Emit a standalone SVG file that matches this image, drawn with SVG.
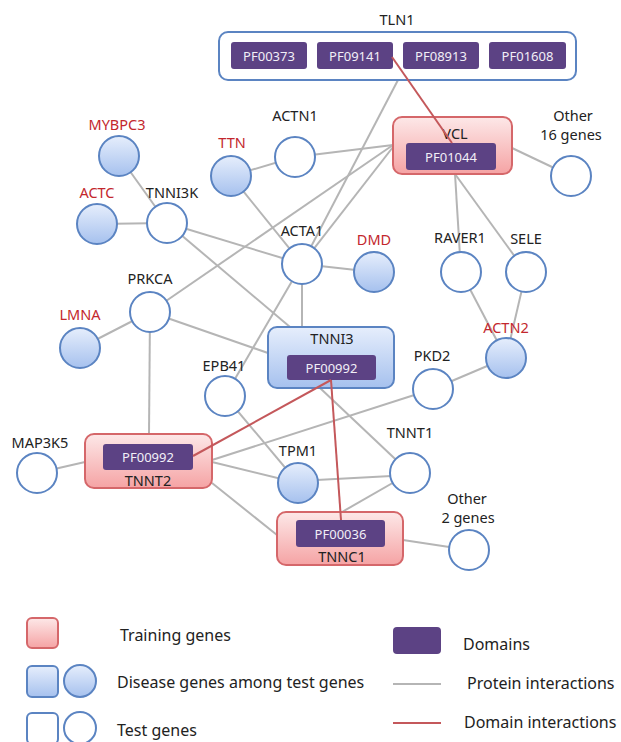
<svg xmlns="http://www.w3.org/2000/svg" width="621" height="742" viewBox="0 0 621 742">
<defs>
<linearGradient id="pink" x1="0" y1="0" x2="0" y2="1">
<stop offset="0" stop-color="#fde8e8"/><stop offset="1" stop-color="#f5a3a4"/>
</linearGradient>
<linearGradient id="blue" x1="0" y1="0" x2="0" y2="1">
<stop offset="0" stop-color="#e6eefc"/><stop offset="1" stop-color="#a6c1ee"/>
</linearGradient>
<style>
text{font-family:"Segoe UI","Noto Sans","Open Sans",sans-serif;dominant-baseline:central}
.lbl{font-size:14.5px;fill:#222;text-anchor:middle}
.red{fill:#c3272d}
.dom{fill:#5c4284;stroke:none}
.dt{font-size:13px;fill:#f2eff7;text-anchor:middle}
.test{fill:#fff;stroke:#5b84c2;stroke-width:2}
.dis{fill:url(#blue);stroke:#5b84c2;stroke-width:2}
.train{fill:url(#pink);stroke:#d5676a;stroke-width:2}
.pi{stroke:#b5b5b5;stroke-width:2;fill:none}
.di{stroke:#c4585b;stroke-width:2;fill:none}
.leg{font-size:16px;fill:#222}
</style>
</defs>
<rect width="621" height="742" fill="#fff"/>

<g id="connectors" class="pi">
<line x1="119" y1="156" x2="167" y2="223"/>
<line x1="97" y1="224" x2="167" y2="223"/>
<line x1="231" y1="176" x2="295" y2="157"/>
<line x1="295" y1="157" x2="393" y2="145"/>
<line x1="231" y1="176" x2="302" y2="264"/>
<line x1="167" y1="223" x2="302" y2="264"/>
<line x1="167" y1="223" x2="290" y2="327"/>
<line x1="150" y1="312" x2="393" y2="145"/>
<line x1="302" y1="264" x2="393" y2="147"/>
<line x1="398" y1="80" x2="302" y2="264"/>
<line x1="302" y1="264" x2="374" y2="272"/>
<line x1="302" y1="264" x2="302" y2="327"/>
<line x1="150" y1="312" x2="80" y2="348"/>
<line x1="150" y1="312" x2="268" y2="353"/>
<line x1="150" y1="312" x2="149" y2="434"/>
<line x1="37" y1="473" x2="85" y2="462"/>
<line x1="212" y1="460" x2="433" y2="389"/>
<line x1="212" y1="462" x2="298" y2="483"/>
<line x1="225" y1="396" x2="302" y2="264"/>
<line x1="225" y1="396" x2="298" y2="483"/>
<line x1="320" y1="388" x2="410" y2="473"/>
<line x1="298" y1="481" x2="410" y2="475"/>
<line x1="342" y1="512" x2="410" y2="473"/>
<line x1="403" y1="540" x2="469" y2="550"/>
<line x1="212" y1="483" x2="277" y2="535"/>
<line x1="455" y1="174" x2="461" y2="272"/>
<line x1="455" y1="174" x2="526" y2="272"/>
<line x1="461" y1="272" x2="506" y2="358"/>
<line x1="526" y1="272" x2="506" y2="358"/>
<line x1="433" y1="389" x2="506" y2="358"/>
<line x1="512" y1="148" x2="571" y2="176"/>
</g>

<g id="TLN1">
<rect class="test" x="219" y="32" width="357" height="48" rx="9"/>
<text class="lbl" x="397" y="19">TLN1</text>
<rect class="dom" x="231" y="42" width="76" height="27" rx="3"/><text class="dt" x="269" y="55.5">PF00373</text>
<rect class="dom" x="317" y="42" width="76" height="27" rx="3"/><text class="dt" x="355" y="55.5">PF09141</text>
<rect class="dom" x="403" y="42" width="76" height="27" rx="3"/><text class="dt" x="441" y="55.5">PF08913</text>
<rect class="dom" x="489" y="42" width="77" height="27" rx="3"/><text class="dt" x="527.5" y="55.5">PF01608</text>
</g>
<g id="MYBPC3"><circle class="dis" cx="119" cy="156" r="20"/><text class="lbl red" x="117" y="124">MYBPC3</text></g>
<g id="ACTC"><circle class="dis" cx="97" cy="224" r="20"/><text class="lbl red" x="97" y="192">ACTC</text></g>
<g id="TNNI3K"><circle class="test" cx="167" cy="223" r="20"/><text class="lbl" x="172" y="192">TNNI3K</text></g>
<g id="TTN"><circle class="dis" cx="231" cy="176" r="20"/><text class="lbl red" x="232" y="142">TTN</text></g>
<g id="ACTN1"><circle class="test" cx="295" cy="157" r="20"/><text class="lbl" x="295" y="115">ACTN1</text></g>
<g id="VCL">
<rect class="train" x="393" y="117" width="119" height="57" rx="9"/>
<text class="lbl" x="455" y="133">VCL</text>
<rect class="dom" x="406" y="143" width="90" height="27" rx="3"/><text class="dt" x="451" y="156.5">PF01044</text>
</g>
<g id="Other16"><circle class="test" cx="571" cy="176" r="20"/><text class="lbl" x="573" y="115">Other</text><text class="lbl" x="571" y="134">16 genes</text></g>
<g id="ACTA1"><circle class="test" cx="302" cy="264" r="20"/><text class="lbl" x="302" y="230">ACTA1</text></g>
<g id="DMD"><circle class="dis" cx="374" cy="272" r="20"/><text class="lbl red" x="374" y="239">DMD</text></g>
<g id="RAVER1"><circle class="test" cx="461" cy="272" r="20"/><text class="lbl" x="460" y="237">RAVER1</text></g>
<g id="SELE"><circle class="test" cx="526" cy="272" r="20"/><text class="lbl" x="526" y="238">SELE</text></g>
<g id="PRKCA"><circle class="test" cx="150" cy="312" r="20"/><text class="lbl" x="150" y="278">PRKCA</text></g>
<g id="LMNA"><circle class="dis" cx="80" cy="348" r="20"/><text class="lbl red" x="80" y="314">LMNA</text></g>
<g id="TNNI3">
<rect class="dis" x="268" y="327" width="126" height="61" rx="9"/>
<text class="lbl" x="332" y="338">TNNI3</text>
<rect class="dom" x="287" y="355" width="89" height="25" rx="3"/><text class="dt" x="331.5" y="367.5">PF00992</text>
</g>
<g id="ACTN2"><circle class="dis" cx="506" cy="358" r="20"/><text class="lbl red" x="506" y="327">ACTN2</text></g>
<g id="PKD2"><circle class="test" cx="433" cy="389" r="20"/><text class="lbl" x="432" y="355">PKD2</text></g>
<g id="EPB41"><circle class="test" cx="225" cy="396" r="20"/><text class="lbl" x="224" y="365">EPB41</text></g>
<g id="MAP3K5"><circle class="test" cx="37" cy="473" r="20"/><text class="lbl" x="40" y="442">MAP3K5</text></g>
<g id="TNNT2">
<rect class="train" x="85" y="434" width="127" height="54" rx="9"/>
<rect class="dom" x="103" y="444" width="90" height="26" rx="3"/><text class="dt" x="148" y="457">PF00992</text>
<text class="lbl" x="148" y="480">TNNT2</text>
</g>
<g id="TPM1"><circle class="dis" cx="298" cy="483" r="20"/><text class="lbl" x="298" y="450">TPM1</text></g>
<g id="TNNT1"><circle class="test" cx="410" cy="473" r="20"/><text class="lbl" x="410" y="432">TNNT1</text></g>
<g id="TNNC1">
<rect class="train" x="277" y="512" width="126" height="53" rx="9"/>
<rect class="dom" x="296" y="520" width="89" height="27" rx="3"/><text class="dt" x="340.5" y="533.5">PF00036</text>
<text class="lbl" x="342" y="556">TNNC1</text>
</g>
<g id="Other2"><circle class="test" cx="469" cy="550" r="20"/><text class="lbl" x="467" y="498">Other</text><text class="lbl" x="468" y="517">2 genes</text></g>

<g id="domain-connectors" class="di">
<line x1="392" y1="57" x2="452" y2="143"/>
<line x1="331" y1="380" x2="193" y2="456"/>
<line x1="331" y1="380" x2="341" y2="520"/>
</g>

<g id="legend">
<rect class="train" x="27" y="618" width="31" height="30" rx="5"/>
<text class="leg" x="120" y="635">Training genes</text>
<rect class="dis" x="27" y="666" width="31" height="31" rx="5"/>
<circle class="dis" cx="80" cy="681" r="16"/>
<text class="leg" x="117" y="682">Disease genes among test genes</text>
<rect class="test" x="27" y="713" width="31" height="31" rx="5"/>
<circle class="test" cx="80" cy="728" r="16"/>
<text class="leg" x="117" y="730">Test genes</text>
<rect class="dom" x="393" y="627" width="48" height="27" rx="4"/>
<text class="leg" x="463" y="644">Domains</text>
<line class="pi" x1="393" y1="684" x2="441" y2="684"/>
<text class="leg" x="467" y="683">Protein interactions</text>
<line class="di" x1="393" y1="723" x2="441" y2="723"/>
<text class="leg" x="464" y="722">Domain interactions</text>
</g>
</svg>
